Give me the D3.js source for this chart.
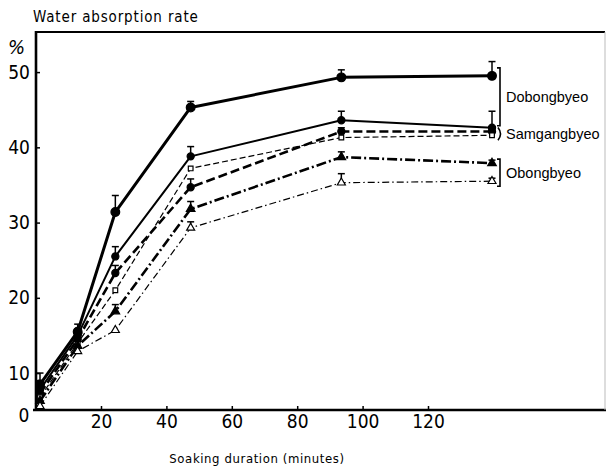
<!DOCTYPE html>
<html>
<head>
<meta charset="utf-8">
<script src="https://cdn.jsdelivr.net/npm/d3@7"></script>
<style>
  body { margin: 0; background: #fff; }
  svg { display: block; }
  .narrow { font-family: "Liberation Sans Narrow", "DejaVu Sans Condensed", "Arial Narrow", sans-serif; }
  .lab { font-family: "Liberation Sans", Arial, sans-serif; }
</style>
</head>
<body>
<svg id="chart" width="606" height="475"></svg>
<script>
// soaking times (minutes) at which the rice was weighed
var minutes = [0, 10, 20, 40, 80, 120];

// water absorption rate (%)
var doboA = [8.5, 15.5, 31.4, 45.3, 49.3, 49.5];
var doboB = [7.8, 15.0, 25.5, 38.8, 43.6, 42.6];
var samgA = [7.3, 14.5, 23.3, 34.7, 42.1, 42.1];
var samgB = [6.8, 14.0, 21.0, 37.2, 41.3, 41.6];
var obonA = [6.3, 13.6, 18.2, 31.8, 38.7, 37.9];
var obonB = [5.6, 12.9, 15.7, 29.3, 35.3, 35.5];

// upper error bars (% points), 0 = none drawn
var doboAErr = [1.5, 1.0, 2.2, 0.8, 1.0, 1.9];
var doboBErr = [1.2, 0.8, 1.3, 1.3, 1.2, 2.2];
var samgAErr = [0, 0.6, 1.0, 1.1, 0.5, 0.6];
var samgBErr = [0, 0, 0, 0, 0, 0];
var obonAErr = [0, 0.6, 0.9, 1.0, 0.7, 0.4];
var obonBErr = [0, 0, 0, 0.8, 1.2, 0.4];

var yTicks = [10, 20, 30, 40, 50];
var yTickLabels = ['10', '20', '30', '40', '50'];
var xTicks = [20, 40, 60, 80, 100, 120];

var groups = ['Dobongbyeo', 'Samgangbyeo', 'Obongbyeo'];

// line styles for each series
var series = [
  { v: doboA, e: doboAErr, g: 0, w: 3,   dash: null,          sym: d3.symbolCircle,   size: 60, fill: true },
  { v: doboB, e: doboBErr, g: 0, w: 2,   dash: null,          sym: d3.symbolCircle,   size: 40, fill: true },
  { v: samgA, e: samgAErr, g: 1, w: 2.6, dash: '9,4',         sym: d3.symbolCircle,   size: 40, fill: true },
  { v: samgB, e: samgBErr, g: 1, w: 1.2, dash: '6,3',         sym: d3.symbolSquare,   size: 22, fill: false },
  { v: obonA, e: obonAErr, g: 2, w: 2.6, dash: '10,3,2,3',    sym: d3.symbolTriangle, size: 32, fill: true },
  { v: obonB, e: obonBErr, g: 2, w: 1.2, dash: '7,3,1.5,3',   sym: d3.symbolTriangle, size: 28, fill: false }
];

var svg = d3.select('#chart');
svg.append('rect').attr('width', 606).attr('height', 475).attr('fill', '#fff');

// the printed axis and the plotted points do not share one scale in the figure
var xAxisScale = d3.scaleLinear().domain([0, 120]).range([35.6, 428]);
var xScale = d3.scaleLinear().domain([0, 120]).range([40, 492]);
var yScale = d3.scaleLinear().domain([0, 50]).range([448.3, 72.1]);

var M = { left: 36, right: 605, top: 32, bottom: 410 };

// frame
svg.append('line').attr('x1', M.left).attr('x2', M.right).attr('y1', M.top).attr('y2', M.top)
  .attr('stroke', '#000').attr('stroke-width', 2.2);
svg.append('line').attr('x1', M.left).attr('x2', M.left).attr('y1', M.top - 1).attr('y2', M.bottom + 1)
  .attr('stroke', '#000').attr('stroke-width', 2.6);
svg.append('line').attr('x1', 33).attr('x2', M.right + 1).attr('y1', M.bottom).attr('y2', M.bottom)
  .attr('stroke', '#000').attr('stroke-width', 2.6);
svg.append('line').attr('x1', M.right).attr('x2', M.right).attr('y1', M.top).attr('y2', M.bottom)
  .attr('stroke', '#bbb').attr('stroke-width', 1);

// y axis
var yAxis = svg.append('g')
  .attr('transform', 'translate(' + M.left + ',0)')
  .call(d3.axisLeft(yScale).tickValues(yTicks)
    .tickFormat(function(d, i) { return yTickLabels[i]; })
    .tickSizeInner(-4).tickSizeOuter(0).tickPadding(6));
yAxis.select('.domain').remove();
yAxis.selectAll('line').attr('stroke-width', 1.5);
yAxis.selectAll('text').attr('class', 'narrow').attr('font-size', 19).attr('fill', '#000');

// x axis
var xAxis = svg.append('g')
  .attr('transform', 'translate(0,' + M.bottom + ')')
  .call(d3.axisBottom(xAxisScale).tickValues(xTicks)
    .tickSizeInner(-4).tickSizeOuter(0).tickPadding(5));
xAxis.select('.domain').remove();
xAxis.selectAll('line').attr('stroke-width', 1.5);
xAxis.selectAll('text').attr('class', 'narrow').attr('font-size', 19).attr('fill', '#000');

// origin label
svg.append('text').attr('class', 'narrow')
  .attr('x', 24).attr('y', 422).attr('text-anchor', 'middle')
  .attr('font-size', 19).text('0');

svg.append('text').attr('class', 'narrow')
  .attr('x', 8).attr('y', 54).attr('font-size', 20).attr('font-style', 'italic').text('%');

svg.append('text').attr('class', 'narrow')
  .attr('x', 33).attr('y', 22).attr('font-size', 15).attr('letter-spacing', 0.85)
  .text('Water absorption rate');

svg.append('text').attr('class', 'narrow')
  .attr('x', 257).attr('y', 463).attr('text-anchor', 'middle')
  .attr('font-size', 13).attr('letter-spacing', 0.6)
  .text('Soaking duration (minutes)');

// series
var line = d3.line()
  .x(function(d, i) { return xScale(minutes[i]); })
  .y(function(d) { return yScale(d); });

series.forEach(function(s) {
  svg.append('path')
    .attr('d', line(s.v))
    .attr('fill', 'none')
    .attr('stroke', '#000')
    .attr('stroke-width', s.w)
    .attr('stroke-dasharray', s.dash)
    .attr('stroke-linejoin', 'round');

  var g = svg.append('g');
  s.v.forEach(function(v, i) {
    var x = xScale(minutes[i]);
    if (s.e[i] > 0) {
      var yt = yScale(v + s.e[i]);
      g.append('line').attr('x1', x).attr('x2', x).attr('y1', yScale(v)).attr('y2', yt)
        .attr('stroke', '#000').attr('stroke-width', 1.5);
      g.append('line').attr('x1', x - 3.5).attr('x2', x + 3.5).attr('y1', yt).attr('y2', yt)
        .attr('stroke', '#000').attr('stroke-width', 1.5);
    }
    g.append('path')
      .attr('transform', 'translate(' + x + ',' + yScale(v) + ')')
      .attr('d', d3.symbol().type(s.sym).size(s.size)())
      .attr('fill', s.fill ? '#000' : '#fff')
      .attr('stroke', '#000')
      .attr('stroke-width', 1.2);
  });
});

// group brackets at the right end
var bx = xScale(120) + 8;
groups.forEach(function(name, gi) {
  var last = series.filter(function(s) { return s.g === gi; })
    .map(function(s) { return s.v[s.v.length - 1]; });
  var y1 = yScale(d3.max(last)) - (gi === 0 ? 8 : 4);
  var y2 = yScale(d3.min(last)) + (gi === 0 ? -2 : 5);
  var path = gi === 1
    ? 'M' + (bx - 2) + ',' + y1 + ' Q' + (bx + 3) + ',' + ((y1 + y2) / 2) + ' ' + (bx - 2) + ',' + y2
    : 'M' + (bx - 3) + ',' + y1 + ' L' + bx + ',' + y1 + ' L' + bx + ',' + y2 + ' L' + (bx - 3) + ',' + y2;
  svg.append('path').attr('d', path).attr('fill', 'none')
    .attr('stroke', '#000').attr('stroke-width', 1.6);
  svg.append('text').attr('class', 'lab')
    .attr('x', bx + 6).attr('y', (y1 + y2) / 2 + 5)
    .attr('font-size', 14.5).attr('fill', '#000')
    .text(name);
});
</script>
</body>
</html>
